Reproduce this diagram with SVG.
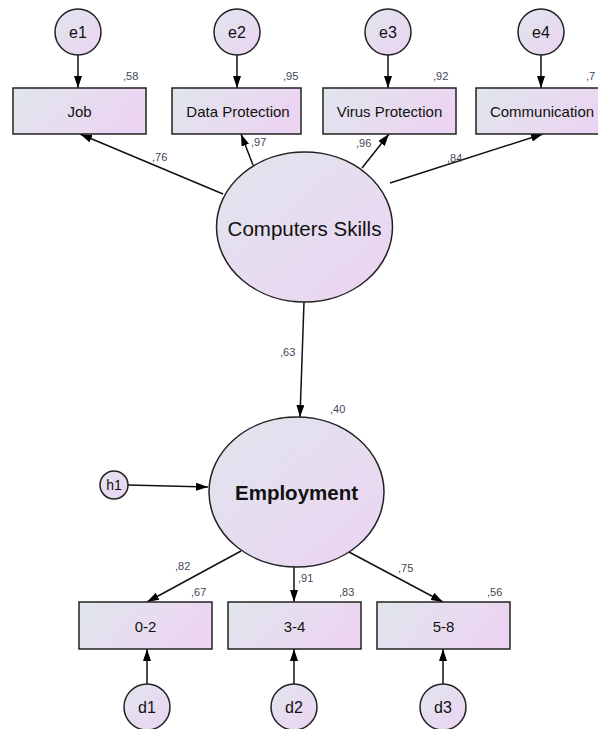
<svg xmlns="http://www.w3.org/2000/svg" width="598" height="729" viewBox="0 0 598 729">
<style>
.n{stroke:#222;stroke-width:1.5}
.b{fill:url(#gb)}
.c{fill:url(#gc)}
.t{font-family:"Liberation Sans",Arial,sans-serif;fill:#111;text-anchor:middle;dominant-baseline:central}
.v{font-family:"Liberation Sans",Arial,sans-serif;fill:#445;font-size:11px}
.e{stroke:#111;stroke-width:1.5;fill:none;marker-end:url(#ah)}
</style>
<defs>
<linearGradient id="gb" x1="0" y1="0" x2="1" y2="0.3"><stop offset="0" stop-color="#e0e6ec"/><stop offset="1" stop-color="#ecd5f2"/></linearGradient>
<linearGradient id="gc" x1="0" y1="0" x2="1" y2="1"><stop offset="0" stop-color="#e0e6ee"/><stop offset="1" stop-color="#ecd3f2"/></linearGradient>
<marker id="ah" viewBox="0 0 12 8" refX="12" refY="4" markerWidth="12" markerHeight="8" markerUnits="userSpaceOnUse" orient="auto"><path d="M0,0L12,4L0,8z" fill="#000"/></marker>
</defs>
<g id="connectors">
<line class="e" x1="78" y1="55" x2="78" y2="88"/>
<line class="e" x1="237" y1="55" x2="237" y2="88"/>
<line class="e" x1="388" y1="55" x2="388" y2="88"/>
<line class="e" x1="541" y1="55" x2="541" y2="88"/>
<line class="e" x1="223" y1="194" x2="80" y2="134"/>
<line class="e" x1="253" y1="165" x2="241" y2="134"/>
<line class="e" x1="362" y1="168" x2="389" y2="134"/>
<line class="e" x1="390" y1="183" x2="543" y2="134"/>
<line class="e" x1="304" y1="302" x2="300" y2="417"/>
<line class="e" x1="128" y1="485" x2="208" y2="487"/>
<line class="e" x1="241" y1="551" x2="147" y2="602"/>
<line class="e" x1="294" y1="567" x2="294" y2="602"/>
<line class="e" x1="349" y1="552" x2="443" y2="602"/>
<line class="e" x1="147" y1="684" x2="147" y2="649"/>
<line class="e" x1="294" y1="684" x2="294" y2="649"/>
<line class="e" x1="443" y1="684" x2="443" y2="649"/>
</g>
<g id="e1"><circle class="n c" cx="78" cy="32" r="23"/><text class="t" x="78" y="32" font-size="16">e1</text></g>
<g id="e2"><circle class="n c" cx="237" cy="32" r="23"/><text class="t" x="237" y="32" font-size="16">e2</text></g>
<g id="e3"><circle class="n c" cx="388" cy="32" r="23"/><text class="t" x="388" y="32" font-size="16">e3</text></g>
<g id="e4"><circle class="n c" cx="541" cy="32" r="23"/><text class="t" x="541" y="32" font-size="16">e4</text></g>
<g id="job"><rect class="n b" x="13" y="88" width="133" height="46"/><text class="t" x="79.5" y="111" font-size="15">Job</text><text class="v" x="123" y="80">,58</text></g>
<g id="dataprot"><rect class="n b" x="172" y="88" width="129" height="46"/><text class="t" x="238" y="111" font-size="15">Data Protection</text><text class="v" x="283" y="80">,95</text></g>
<g id="virusprot"><rect class="n b" x="323" y="88" width="133" height="46"/><text class="t" x="389.5" y="111" font-size="15">Virus Protection</text><text class="v" x="433" y="80">,92</text></g>
<g id="communication"><rect class="n b" x="476" y="88" width="133" height="46"/><text class="t" x="542" y="111" font-size="15">Communication</text><text class="v" x="586" y="80">,7</text></g>
<g id="computers"><ellipse class="n c" cx="304.5" cy="227" rx="88" ry="75"/><text class="t" x="304.5" y="228" font-size="20.5">Computers Skills</text></g>
<g id="employment"><ellipse class="n c" cx="296.5" cy="492" rx="87.5" ry="75"/><text class="t" x="296.5" y="492" font-size="20.5" font-weight="bold">Employment</text><text class="v" x="330" y="413">,40</text></g>
<g id="h1"><circle class="n c" cx="114" cy="485" r="14"/><text class="t" x="114" y="485" font-size="14">h1</text></g>
<g id="b02"><rect class="n b" x="79" y="602" width="133" height="47"/><text class="t" x="145.5" y="626" font-size="15">0-2</text><text class="v" x="191" y="596">,67</text></g>
<g id="b34"><rect class="n b" x="228" y="602" width="133" height="47"/><text class="t" x="294.5" y="626" font-size="15">3-4</text><text class="v" x="339" y="596">,83</text></g>
<g id="b58"><rect class="n b" x="377" y="602" width="133" height="47"/><text class="t" x="443.5" y="626" font-size="15">5-8</text><text class="v" x="487" y="596">,56</text></g>
<g id="d1"><circle class="n c" cx="147" cy="707" r="23"/><text class="t" x="147" y="707" font-size="16">d1</text></g>
<g id="d2"><circle class="n c" cx="294" cy="707" r="23"/><text class="t" x="294" y="707" font-size="16">d2</text></g>
<g id="d3"><circle class="n c" cx="443" cy="707" r="23"/><text class="t" x="443" y="707" font-size="16">d3</text></g>
<g id="labels">
<text class="v" x="152" y="161">,76</text>
<text class="v" x="251" y="146">,97</text>
<text class="v" x="356" y="147">,96</text>
<text class="v" x="447" y="162">,84</text>
<text class="v" x="280" y="356">,63</text>
<text class="v" x="175" y="570">,82</text>
<text class="v" x="298" y="582">,91</text>
<text class="v" x="398" y="572">,75</text>
</g>
</svg>
